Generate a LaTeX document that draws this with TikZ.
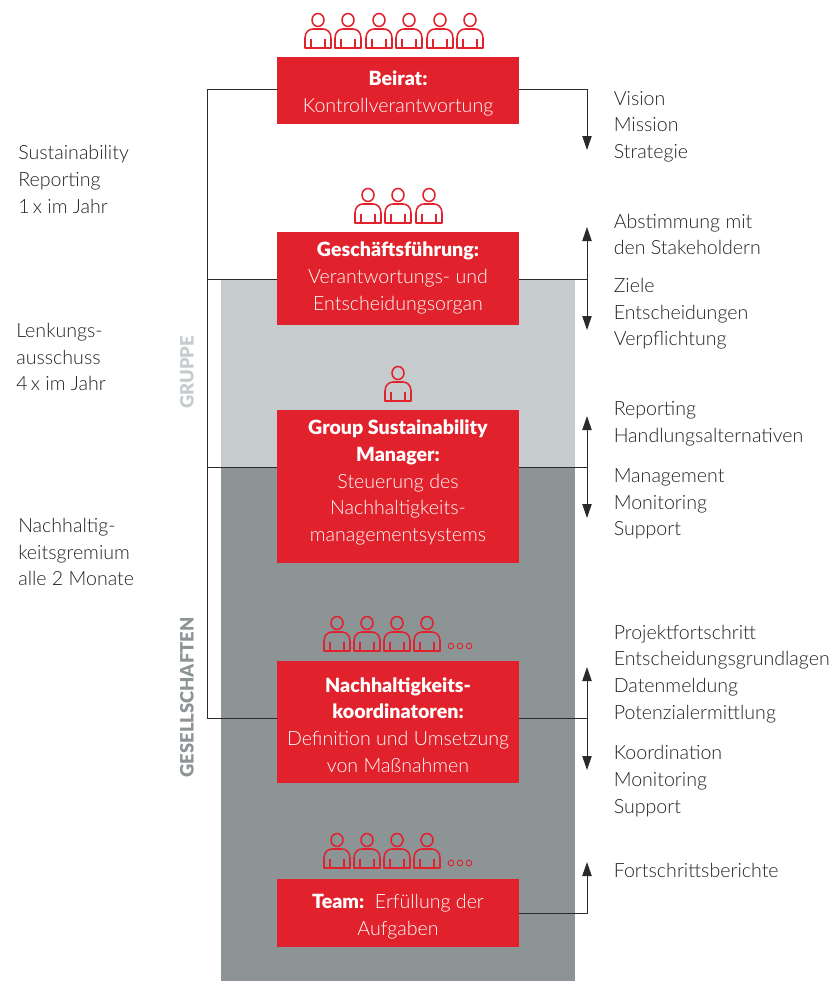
\documentclass[tikz,border=0pt]{standalone}
\usepackage{fontspec}
\usetikzlibrary{arrows.meta}
\setmainfont{Lato Light}[BoldFont={Lato Black}]
\definecolor{brandred}{HTML}{E1212B}
\definecolor{lightbg}{HTML}{C6CBCE}
\definecolor{darkbg}{HTML}{8D9496}
\definecolor{txt}{HTML}{222222}
\definecolor{conn}{HTML}{2A2A2A}
\tikzset{
  x=0.75pt,y=-0.75pt,
  redbox/.style={fill=brandred,draw=none,minimum width=181.5pt,inner sep=0pt},
  boxtext/.style={text=white,align=center,font=\fontsize{14.7pt}{20pt}\selectfont,inner sep=0pt},
  sidetext/.style={text=txt,align=left,anchor=west,font=\fontsize{14.7pt}{20pt}\selectfont,inner sep=0pt},
  vertlabel/.style={rotate=90,font=\fontsize{13.8pt}{14pt}\selectfont\bfseries,inner sep=0pt},
  link/.style={draw=conn,line width=0.75pt},
  arrowlink/.style={link,-{Triangle[length=10.5pt,width=7pt]}},
  twoway/.style={link,{Triangle[length=10.5pt,width=7pt]}-{Triangle[length=10.5pt,width=7pt]}},
  person/.pic={
    \draw[brandred,line width=1.15pt,line join=round]
      (-13,0) -- (-13,-10) .. controls (-13,-16) and (-9,-19) .. (-5,-19) -- (5,-19)
      .. controls (9,-19) and (13,-16) .. (13,-10) -- (13,0) -- cycle;
    \draw[brandred,line width=1.15pt] (-7,0) -- (-7,-9) (7,0) -- (7,-9);
    \draw[brandred,line width=1.15pt] (0,-28) ellipse [x radius=6,y radius=6.5];
  },
  moredots/.pic={
    \draw[brandred,line width=0.7pt] (-9,0) circle [radius=2.8] (0,0) circle [radius=2.8] (9,0) circle [radius=2.8];
  }
}
\begin{document}
\begin{tikzpicture}
\useasboundingbox (0,0) rectangle (832,981);
% background bands
\fill[lightbg] (221,279) rectangle (575,467);
\fill[darkbg] (221,467) rectangle (575,981);
% boxes
\node[redbox,minimum height=50.25pt] (beirat) at (398,90.5) {};
\node[redbox,minimum height=69.75pt] (gf) at (398,278.5) {};
\node[redbox,minimum height=114.75pt] (gsm) at (398,486.5) {};
\node[redbox,minimum height=91.5pt] (nk) at (398,722) {};
\node[redbox,minimum height=51pt] (team) at (398,913) {};
% box texts
\node[boxtext] (beirattext) at (398,93.5) {\textbf{Beirat:}\\Kontrollverantwortung};
\node[boxtext] (gftext) at (398,278) {\textbf{Geschäftsführung:}\\Verantwortungs- und\\Entscheidungsorgan};
\node[boxtext] (gsmtext) at (398,482.5) {\textbf{Group Sustainability}\\\textbf{Manager:}\\Steuerung des\\Nachhaltigkeits-\\managementsystems};
\node[boxtext] (nktext) at (398,725) {\textbf{Nachhaltigkeits-}\\\textbf{koordinatoren:}\\Definition und Umsetzung\\von Maßnahmen};
\node[boxtext] (teamtext) at (398,916.5) {\textbf{Team:}\ \ Erfüllung der\\Aufgaben};
% people
\foreach \px in {318,348,379,409,440,470} \pic at (\px,48) {person};
\foreach \px in {368,398,429} \pic at (\px,223) {person};
\pic at (398,401) {person};
\foreach \px in {337,367,397,427} \pic at (\px,651) {person};
\pic at (460,646) {moredots};
\foreach \px in {337,367,397,427} \pic at (\px,868) {person};
\pic at (460,863) {moredots};
% vertical labels
\node[vertlabel,text=lightbg] (gruppe) at (187,372.5) {GRUPPE};
\node[vertlabel,text=darkbg] (gesell) at (187,697.5) {GESELLSCHAFTEN};
% left labels
\node[sidetext] (l1) at (18,179.5) {Sustainability\\Reporting\\1\,x im Jahr};
\node[sidetext] (l2) at (16,357) {Lenkungs-\\ausschuss\\4\,x im Jahr};
\node[sidetext] (l3) at (18,552) {Nachhaltig-\\keitsgremium\\alle 2 Monate};
% right labels
\node[sidetext] (r1) at (613.5,126.5) {Vision\\Mission\\Strategie};
\node[sidetext] (r2) at (613.5,234.5) {Abstimmung mit\\den Stakeholdern};
\node[sidetext] (r3) at (613.5,314) {Ziele\\Entscheidungen\\Verpflichtung};
\node[sidetext] (r4) at (613.5,424) {Reporting\\Handlungsalternativen};
\node[sidetext] (r5) at (613.5,504) {Management\\Monitoring\\Support};
\node[sidetext] (r6) at (613.5,674) {Projektfortschritt\\Entscheidungsgrundlagen\\Datenmeldung\\Potenzialermittlung};
\node[sidetext] (r7) at (613.5,781) {Koordination\\Monitoring\\Support};
\node[sidetext] (r8) at (613.5,870) {Fortschrittsberichte};
% connector coordinates
\coordinate (spineA) at (207,90);
\coordinate (spineB) at (207,718);
\coordinate (s2) at (207,279);
\coordinate (s3) at (207,467);
\coordinate (a1end) at (587,150);
\coordinate (a2top) at (587,227);
\coordinate (a2bot) at (587,330);
\coordinate (a2mid) at (587,279);
\coordinate (a3top) at (587,416);
\coordinate (a3bot) at (587,518);
\coordinate (a3mid) at (587,467);
\coordinate (a4top) at (587,667);
\coordinate (a4bot) at (587,770);
\coordinate (a4mid) at (587,718);
\coordinate (a5end) at (587,862);
\coordinate (teamout) at (519,913.5);
% left bracket
\draw[link,line join=miter] (beirat.west |- spineA) -- (spineA) -- (spineB) -- (nk.west |- spineB);
\draw[link] (s2) -- (gf.west |- s2);
\draw[link] (s3) -- (gsm.west |- s3);
% right connectors
\draw[arrowlink] (beirat.east |- spineA) -| (a1end);
\draw[twoway] (a2top) -- (a2bot);
\draw[link] (gf.east |- a2mid) -- (a2mid);
\draw[twoway] (a3top) -- (a3bot);
\draw[link] (gsm.east |- a3mid) -- (a3mid);
\draw[twoway] (a4top) -- (a4bot);
\draw[link] (nk.east |- a4mid) -- (a4mid);
\draw[arrowlink] (teamout) -| (a5end);
\end{tikzpicture}
\end{document}
